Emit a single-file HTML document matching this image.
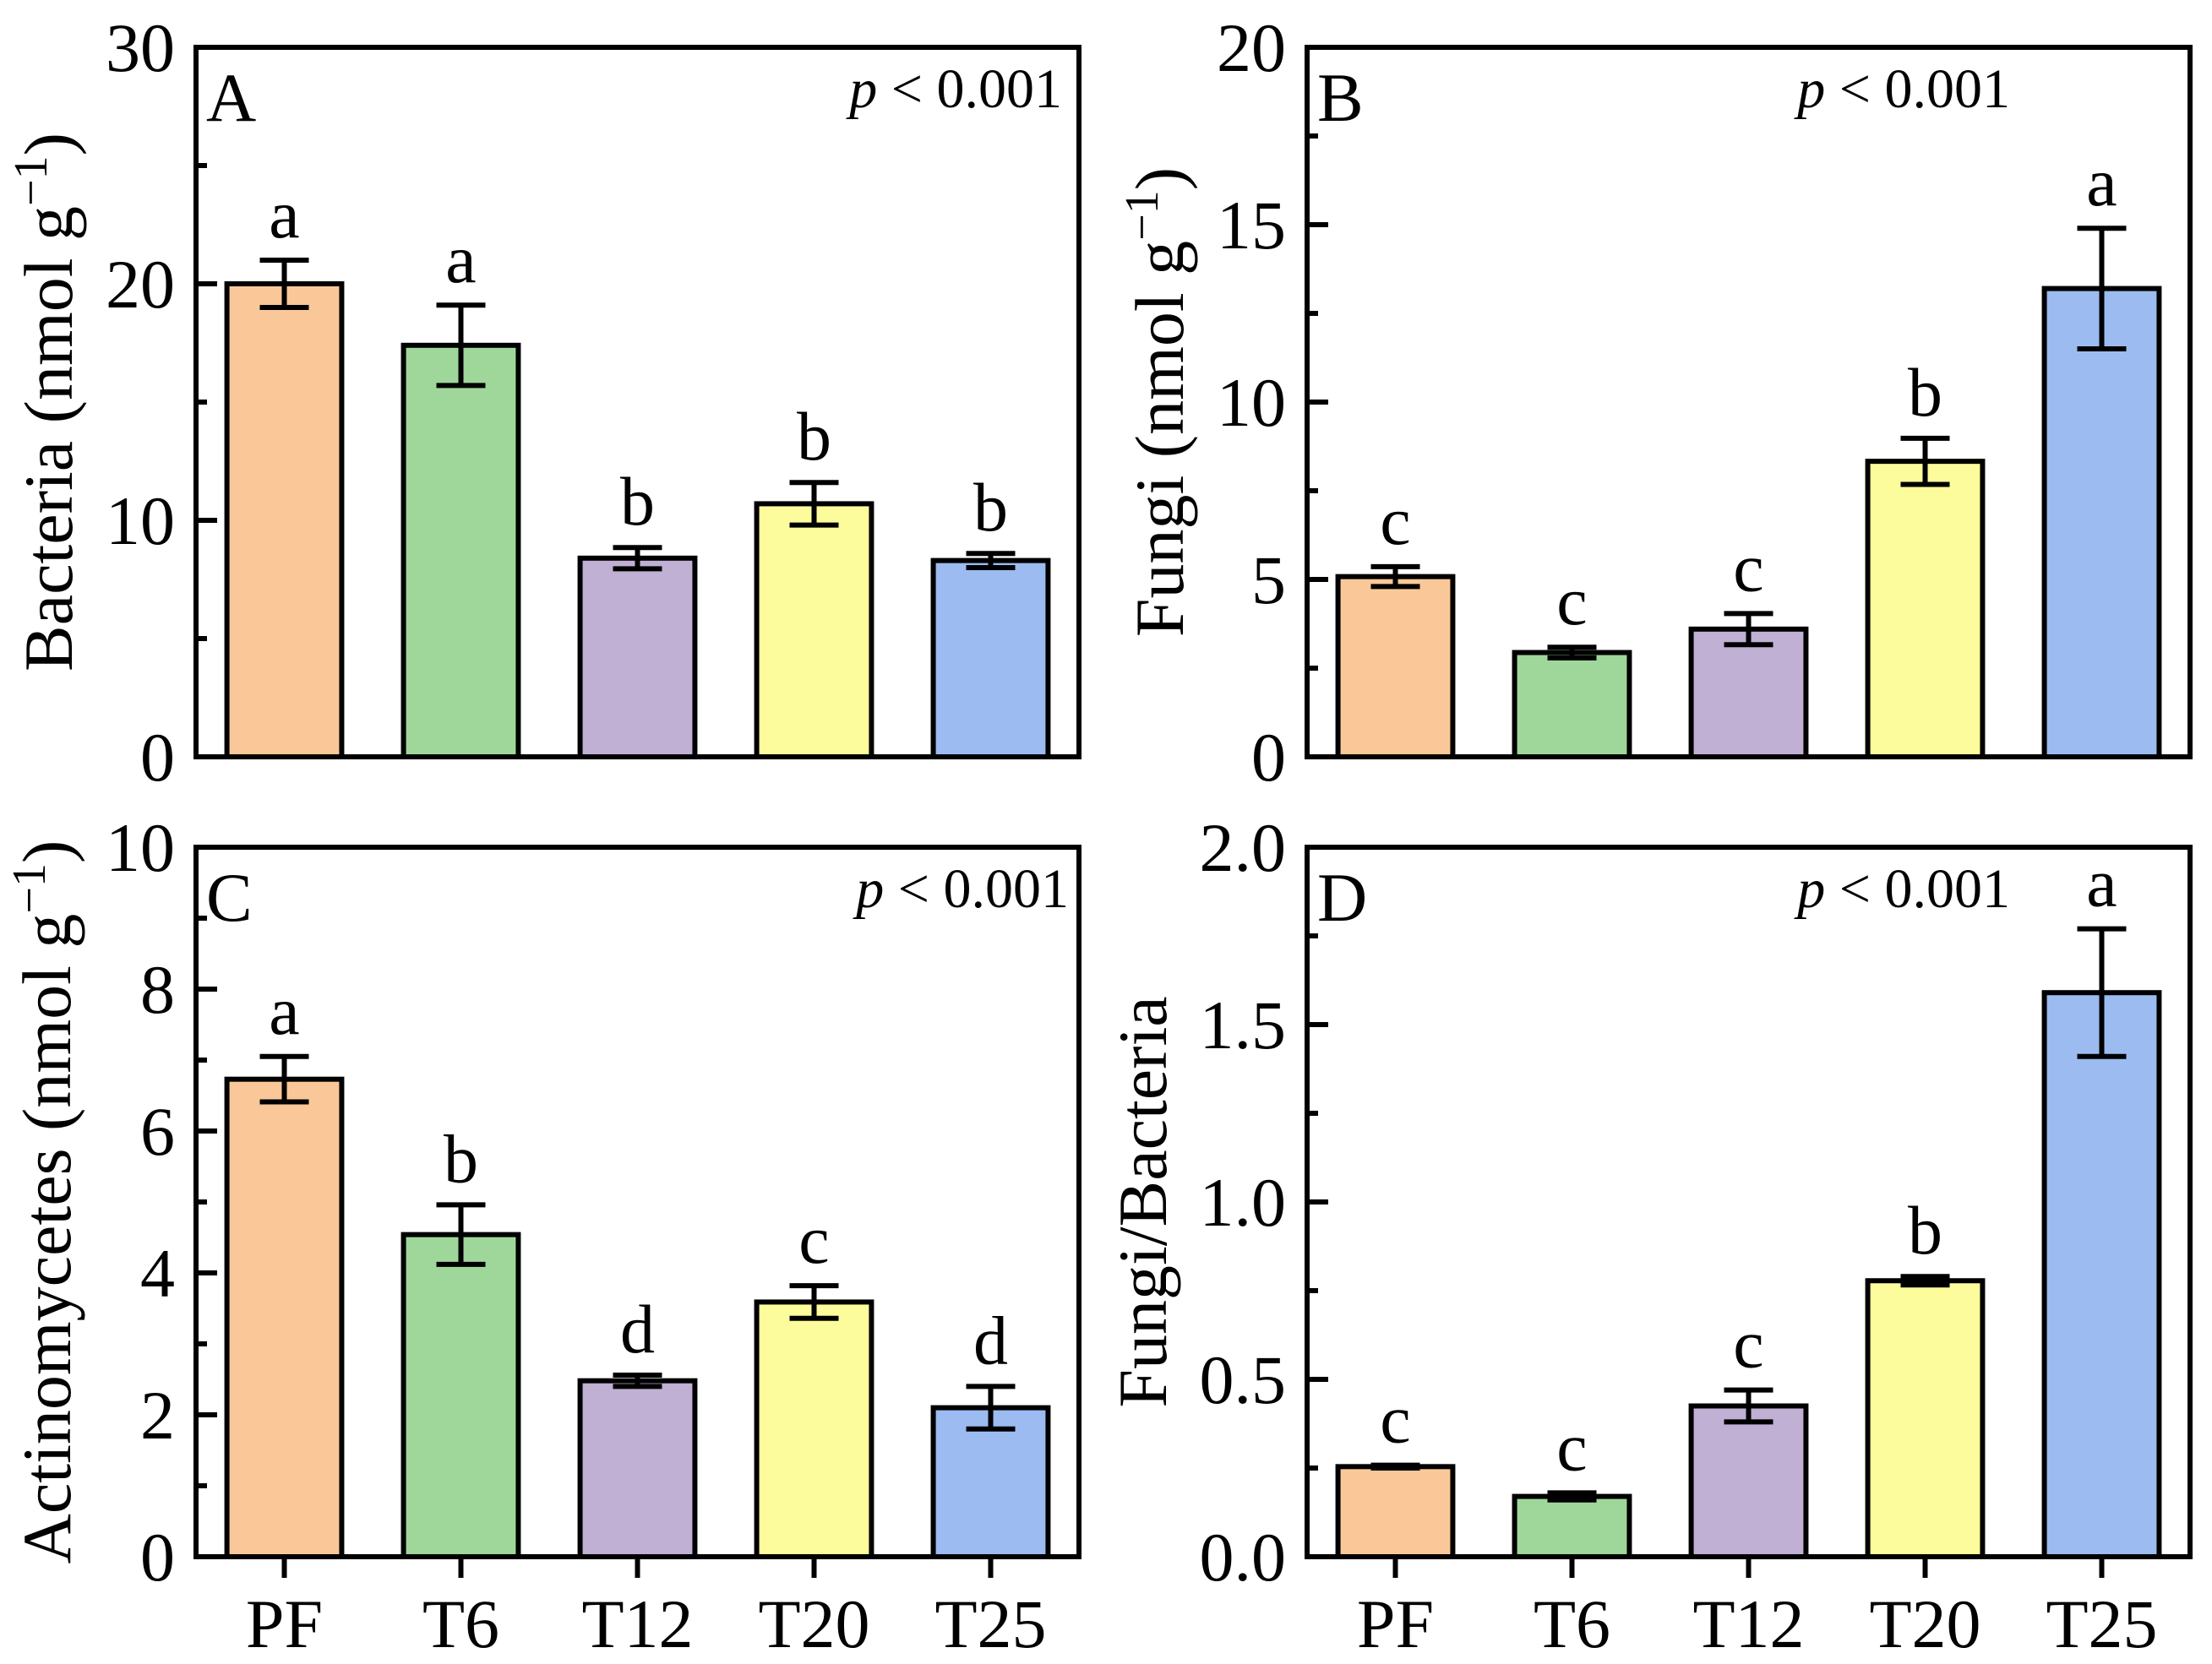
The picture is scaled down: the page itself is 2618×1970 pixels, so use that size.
<!DOCTYPE html>
<html><head><meta charset="utf-8"><style>
html,body{margin:0;padding:0;background:#fff}
svg{display:block}
text{font-family:"Liberation Serif",serif;fill:#000}
</style></head><body>
<svg id="chart" width="2618" height="1970" viewBox="0 0 2618 1970" xmlns="http://www.w3.org/2000/svg"></svg>
<script>
const categories = ["PF","T6","T12","T20","T25"];
const colors = ["#fac898","#9fd79b","#c0b0d4","#fdfc9c","#9cbbf1"];
const bacteriaValues = [20.0,17.4,8.4,10.7,8.3];
const bacteriaErrors = [1.0,1.7,0.45,0.9,0.3];
const bacteriaLetters = ["a","a","b","b","b"];
const fungiValues = [5.08,2.94,3.6,8.33,13.2];
const fungiErrors = [0.28,0.15,0.44,0.65,1.7];
const fungiLetters = ["c","c","c","b","a"];
const actinoValues = [6.73,4.54,2.48,3.59,2.1];
const actinoErrors = [0.32,0.42,0.08,0.23,0.3];
const actinoLetters = ["a","b","d","c","d"];
const ratioValues = [0.254,0.17,0.425,0.778,1.59];
const ratioErrors = [0.004,0.01,0.045,0.012,0.18];
const ratioLetters = ["c","c","c","b","a"];
const bacteriaTicks = ["0","10","20","30"];
const fungiTicks = ["0","5","10","15","20"];
const actinoTicks = ["0","2","4","6","8","10"];
const ratioTicks = ["0.0","0.5","1.0","1.5","2.0"];

const NS="http://www.w3.org/2000/svg";
const svg=document.getElementById('chart');
function mk(tag,attrs,parent){const e=document.createElementNS(NS,tag);for(const k in attrs)e.setAttribute(k,attrs[k]);(parent||svg).appendChild(e);return e;}
const SW=6;
const panels=[
 {id:"a",label:"A",x0:232,y0:56,vals:bacteriaValues,errs:bacteriaErrors,letters:bacteriaLetters,ticks:bacteriaTicks,max:30,title:"Bacteria (nmol g",sup:true,tx:85,ty:476,px:1257,xt:false},
 {id:"b",label:"B",x0:1547,y0:56,vals:fungiValues,errs:fungiErrors,letters:fungiLetters,ticks:fungiTicks,max:20,title:"Fungi (nmol g",sup:true,tx:1400,ty:476,px:2379,xt:false},
 {id:"c",label:"C",x0:232,y0:1003,vals:actinoValues,errs:actinoErrors,letters:actinoLetters,ticks:actinoTicks,max:10,title:"Actinomycetes (nmol g",sup:true,tx:83,ty:1423,px:1265,xt:true},
 {id:"d",label:"D",x0:1547,y0:1003,vals:ratioValues,errs:ratioErrors,letters:ratioLetters,ticks:ratioTicks,max:2,title:"Fungi/Bacteria",sup:false,tx:1380,ty:1423,px:2379,xt:true}
];
const W=1045,H=840;
panels.forEach(p=>{
  const g=mk('g',{});
  
  
  const band=W/categories.length;
  const xc=i=>p.x0+band*(i+0.5);
  const y=v=>p.y0+H-v/p.max*H;
  const bw=band*0.65;
  p.vals.forEach((v,i)=>{
    const r=mk('rect',{x:xc(i)-bw/2,y:y(v),width:bw,height:y(0)-y(v),fill:colors[i],stroke:'#000','stroke-width':SW},g);
    
    
    const e=p.errs[i],t=y(v+e),b=y(v-e),cx=xc(i);
    const eg=mk('path',{d:`M${cx-29},${t}H${cx+29}M${cx},${t}V${b}M${cx-29},${b}H${cx+29}`,stroke:'#000','stroke-width':SW,fill:'none'},g);
    
    
    const lt=mk('text',{x:cx,y:t-27,'font-size':82,'text-anchor':'middle'},g);
    lt.textContent=p.letters[i];
    
    
  });
  const fr=mk('rect',{x:p.x0,y:p.y0,width:W,height:H,fill:'none',stroke:'#000','stroke-width':SW},g);
  
  
  const n=p.ticks.length-1;
  for(let k=0;k<=n;k++){
    const v=p.max*k/n,yy=y(v);
    if(k>0&&k<n){mk('line',{x1:p.x0,x2:p.x0+25,y1:yy,y2:yy,stroke:'#000','stroke-width':SW},g);}
    const tl=mk('text',{x:p.x0-25,y:yy+28,'font-size':82,'text-anchor':'end'},g);
    tl.textContent=p.ticks[k];
    
    
    if(k<n){const ym=y(v+p.max/n/2);mk('line',{x1:p.x0,x2:p.x0+13,y1:ym,y2:ym,stroke:'#000','stroke-width':SW},g);}
  }
  if(p.xt){
    categories.forEach((c,i)=>{
      mk('line',{x1:xc(i),x2:xc(i),y1:p.y0+H,y2:p.y0+H+25,stroke:'#000','stroke-width':SW},g);
      const ct=mk('text',{x:xc(i),y:1950,'font-size':82,'text-anchor':'middle'},g);
      ct.textContent=c;
      
      
    });
  }
  const pl=mk('text',{x:p.x0+12,y:p.y0+87,'font-size':82},g);
  pl.textContent=p.label;
  
  
  const pv=mk('text',{x:p.px,y:p.y0+71,'font-size':66,'text-anchor':'end'},g);
  pv.innerHTML='<tspan font-style="italic">p</tspan> &lt; 0.001';
  
  
  const yt=mk('text',{x:0,y:0,'font-size':82,'text-anchor':'middle',transform:`translate(${p.tx},${p.ty}) rotate(-90)`},g);
  yt.innerHTML=p.sup?p.title+'<tspan font-size="56" dy="-30">−1</tspan><tspan dy="30">)</tspan>':p.title;
  
  
});
</script>
</body></html>
